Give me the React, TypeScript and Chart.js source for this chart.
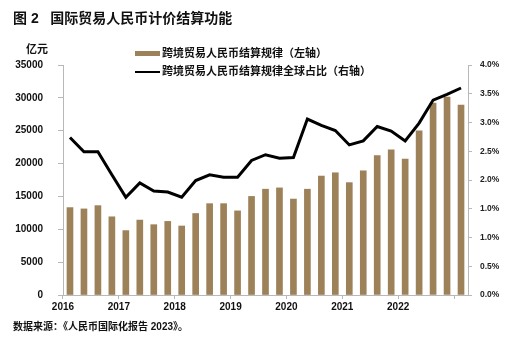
import React, { useEffect, useRef } from "react";
import { Chart, registerables } from "chart.js";

Chart.register(...registerables);

const quarters = [
  "2016Q1", "2016Q2", "2016Q3", "2016Q4",
  "2017Q1", "2017Q2", "2017Q3", "2017Q4",
  "2018Q1", "2018Q2", "2018Q3", "2018Q4",
  "2019Q1", "2019Q2", "2019Q3", "2019Q4",
  "2020Q1", "2020Q2", "2020Q3", "2020Q4",
  "2021Q1", "2021Q2", "2021Q3", "2021Q4",
  "2022Q1", "2022Q2", "2022Q3", "2022Q4",
  "2023Q1",
];

const yearLabels = ["2016", "2017", "2018", "2019", "2020", "2021", "2022"];

const settlementVolume = [
  13300, 13100, 13600, 11900,
  9800, 11400, 10700, 11200,
  10500, 12400, 13900, 13900,
  12800, 15000, 16100, 16300,
  14600, 16100, 18100, 18600,
  17100, 18900, 21200, 22100,
  20700, 25000, 29200, 30100,
  28900,
];

const globalShare = [
  2.74, 2.49, 2.49, 2.09,
  1.70, 1.95, 1.81, 1.79,
  1.70, 1.99, 2.09, 2.05,
  2.05, 2.34, 2.44, 2.38,
  2.39, 3.06, 2.95, 2.86,
  2.61, 2.68, 2.93, 2.85,
  2.68, 2.99, 3.39, 3.49,
  3.60,
];

const rightTickLabels = ["0.0%", "0.5%", "1.0%", "1.0%", "2.0%", "2.5%", "3.0%", "3.5%", "4.0%"];

const barLabel = "跨境贸易人民币结算规律（左轴）";
const lineLabel = "跨境贸易人民币结算规律全球占比（右轴）";
const titleText = "国际贸易人民币计价结算功能";
const unitText = "亿元";
const sourceText = "数据来源：《人民币国际化报告 2023》。";

const FONT = '"Liberation Sans", "Noto Sans CJK SC", Arial, sans-serif';
const BAR_COLOR = "#9d8159";
const AXIS_COLOR = "#b8b8b8";

export default function App() {
  const canvasRef = useRef<HTMLCanvasElement | null>(null);

  useEffect(() => {
    const canvas = canvasRef.current;
    if (!canvas) return;
    const chart = new Chart(canvas, {
      type: "bar",
      data: {
        labels: quarters,
        datasets: [
          {
            type: "line",
            label: lineLabel,
            data: globalShare,
            yAxisID: "y1",
            borderColor: "#000000",
            borderWidth: 3,
            pointRadius: 0,
            tension: 0,
            order: 0,
          },
          {
            type: "bar",
            label: barLabel,
            data: settlementVolume,
            yAxisID: "y",
            backgroundColor: BAR_COLOR,
            barThickness: 6,
            order: 1,
          },
        ],
      },
      options: {
        responsive: false,
        animation: false,
        layout: { padding: { top: 65, bottom: 25, left: 0, right: 0 } },
        plugins: {
          legend: { display: false },
          tooltip: { enabled: false },
        },
        scales: {
          x: {
            type: "category",
            offset: true,
            afterFit: (s: any) => {
              s.height = 20;
            },
            border: { color: AXIS_COLOR, width: 1 },
            grid: {
              offset: true,
              drawOnChartArea: false,
              drawTicks: true,
              tickLength: 4,
              color: (ctx: any) =>
                ctx.index % 4 === 0 || ctx.index === quarters.length ? AXIS_COLOR : "rgba(0,0,0,0)",
            },
            ticks: {
              autoSkip: false,
              maxRotation: 0,
              minRotation: 0,
              padding: 2,
              labelOffset: -7,
              color: "#111",
              font: { family: FONT, size: 10, weight: "bold" },
              callback: (_v: any, i: number) =>
                i % 4 === 0 && yearLabels[i / 4] ? yearLabels[i / 4] : "",
            },
          },
          y: {
            position: "left",
            min: 0,
            max: 35000,
            afterFit: (s: any) => {
              s.width = 63;
            },
            border: { color: AXIS_COLOR, width: 1 },
            grid: {
              drawOnChartArea: false,
              drawTicks: true,
              tickLength: 5,
              color: AXIS_COLOR,
            },
            ticks: {
              stepSize: 5000,
              padding: 15,
              color: "#111",
              font: { family: FONT, size: 10, weight: "bold" },
              callback: (v: any) => String(v),
            },
          },
          y1: {
            position: "right",
            min: 0,
            max: 4,
            afterFit: (s: any) => {
              s.width = 57;
            },
            border: { color: AXIS_COLOR, width: 1 },
            grid: {
              drawOnChartArea: false,
              drawTicks: true,
              tickLength: 4,
              color: AXIS_COLOR,
            },
            ticks: {
              stepSize: 0.5,
              padding: 8,
              color: "#222",
              font: { family: FONT, size: 8.5, weight: "bold" },
              callback: (_v: any, i: number) => rightTickLabels[i],
            },
          },
        },
      },
    });
    return () => chart.destroy();
  }, []);

  const textBase: React.CSSProperties = {
    position: "absolute",
    fontFamily: FONT,
    fontWeight: "bold",
    color: "#111",
    whiteSpace: "nowrap",
    lineHeight: 1,
  };

  return (
    <div
      style={{
        position: "fixed",
        left: 0,
        top: 0,
        width: 525,
        height: 340,
        background: "#ffffff",
        overflow: "hidden",
      }}
    >
      <canvas
        ref={canvasRef}
        width={525}
        height={340}
        style={{ position: "absolute", left: 0, top: 0, width: 525, height: 340 }}
      />
      <div style={{ ...textBase, left: 13, top: 11, fontSize: 14 }}>
        图 2&nbsp;&nbsp;&nbsp;{titleText}
      </div>
      <div style={{ ...textBase, left: 26, top: 44, fontSize: 11 }}>{unitText}</div>
      <div style={{ position: "absolute", left: 135, top: 51, width: 25, height: 5, background: BAR_COLOR }} />
      <div style={{ ...textBase, left: 162, top: 48, fontSize: 11 }}>{barLabel}</div>
      <div style={{ position: "absolute", left: 135, top: 71, width: 25, height: 2, background: "#000" }} />
      <div style={{ ...textBase, left: 162, top: 66, fontSize: 11 }}>{lineLabel}</div>
      <div style={{ ...textBase, left: 13, top: 322, fontSize: 10 }}>{sourceText}</div>
    </div>
  );
}
